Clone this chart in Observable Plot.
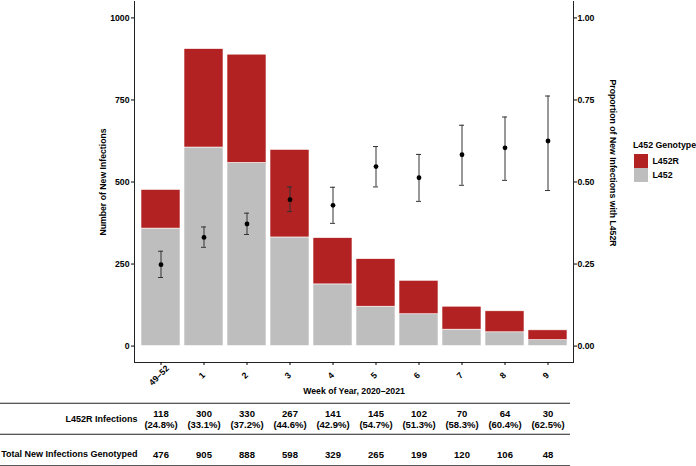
<!DOCTYPE html>
<html><head><meta charset="utf-8">
<script src="https://cdn.jsdelivr.net/npm/d3@7"></script>
<script src="https://cdn.jsdelivr.net/npm/@observablehq/plot@0.6"></script>
<style>
body{margin:0;background:#fff;font-family:"Liberation Sans",Arial,Helvetica,sans-serif;}
#wrap{position:relative;width:696px;height:466px;overflow:hidden;background:#fff}
#wrap svg{display:block}
.lg{position:absolute;font-weight:bold;font-size:8.8px;line-height:10px;color:#000;white-space:nowrap}
.sw{position:absolute;width:14px;height:14px}
</style></head>
<body><div id="wrap"></div>
<script>
// ---- data ----
const weeks = ["49–52","1","2","3","4","5","6","7","8","9"];
const l452rCounts = [118,300,330,267,141,145,102,70,64,30];
const totalCounts = [476,905,888,598,329,265,199,120,106,48];
const l452rPct = [24.8,33.1,37.2,44.6,42.9,54.7,51.3,58.3,60.4,62.5];
const ciLow  = [0.209,0.301,0.340,0.410,0.374,0.485,0.441,0.490,0.505,0.474];
const ciHigh = [0.289,0.363,0.405,0.485,0.484,0.608,0.584,0.673,0.698,0.762];
const genotypes = ["L452R","L452"];
const genotypeColors = ["#B22222","#BEBEBE"];
const countTicks = [0,250,500,750,1000];
const rowLabels = ["L452R Infections","Total New Infections Genotyped"];
const xTitle = "Week of Year, 2020–2021";
const yTitle = "Number of New Infections";
const y2Title = "Proportion of New Infections with L452R";
const legendTitle = "L452 Genotype";

// ---- derived tables ----
const barRows = [];
weeks.forEach((w,i)=>{
  barRows.push({week:w, genotype:"L452", count: totalCounts[i]-l452rCounts[i]});
  barRows.push({week:w, genotype:"L452R", count: l452rCounts[i]});
});
const propRows = weeks.map((w,i)=>({week:w, p:l452rPct[i]/100, lo:ciLow[i], hi:ciHigh[i]}));
const cellRows = weeks.map((w,i)=>({week:w, r:`${l452rCounts[i]}\n(${l452rPct[i].toFixed(1)}%)`, t:`${totalCounts[i]}`}));

const font = '"Liberation Sans", Arial, Helvetica, sans-serif';
const xScale = {type:"band", domain:weeks, paddingInner:0.1, paddingOuter:0.15, align:0.5};
const K = 1000; // secondary-axis factor (proportion -> count axis)

const chart = Plot.plot({
  width:696, height:400,
  marginLeft:134, marginRight:123, marginTop:1, marginBottom:38,
  style:{fontFamily:font, fontSize:"8.7px", fontWeight:"bold", color:"#000", background:"#fff", overflow:"visible"},
  x:{...xScale},
  y:{domain:[-50,1050]},
  color:{domain:genotypes, range:genotypeColors},
  marks:[
    Plot.barY(barRows, {x:"week", y:"count", fill:"genotype", stroke:"#fff", strokeWidth:0.6}),
    Plot.ruleX(propRows, {x:"week", y1:d=>d.lo*K, y2:d=>d.hi*K, stroke:"#333", strokeWidth:1}),
    Plot.tickY(propRows, {x:"week", y:d=>d.lo*K, insetLeft:17, insetRight:17, stroke:"#333", strokeWidth:1}),
    Plot.tickY(propRows, {x:"week", y:d=>d.hi*K, insetLeft:17, insetRight:17, stroke:"#333", strokeWidth:1}),
    Plot.dot(propRows, {x:"week", y:d=>d.p*K, r:2.4, fill:"#000"}),
    Plot.frame({anchor:"left", stroke:"#222"}),
    Plot.frame({anchor:"bottom", stroke:"#222"}),
    Plot.frame({anchor:"right", stroke:"#222"}),
    Plot.axisY({anchor:"left", ticks:countTicks, tickSize:3, tickPadding:2, tickFormat:d=>String(d), label:null}),
    Plot.axisY({anchor:"right", ticks:countTicks, tickSize:3, tickPadding:1, tickFormat:d=>(d/K).toFixed(2), label:null}),
    Plot.axisX({tickSize:3, tickFormat:()=>"", label:null}),
    Plot.text(weeks, {x:d=>d, frameAnchor:"bottom", dy:15, rotate:-45}),
    Plot.text([xTitle], {frameAnchor:"bottom", dy:31}),
    Plot.text([yTitle], {frameAnchor:"left", textAnchor:"middle", dx:-31, rotate:-90}),
    Plot.text([y2Title], {frameAnchor:"right", textAnchor:"middle", dx:39, dy:-19, rotate:90})
  ]
});

const table = Plot.plot({
  width:696, height:66,
  marginLeft:134, marginRight:123, marginTop:2, marginBottom:1,
  style:{fontFamily:font, fontSize:"9px", fontWeight:"bold", color:"#000", background:"#fff", overflow:"visible"},
  x:{...xScale, axis:null},
  y:{type:"band", domain:rowLabels, padding:0, axis:null},
  marks:[
    Plot.ruleY(rowLabels, {y:d=>d, dy:-15.75, insetLeft:-134, insetRight:3, stroke:"#222"}),
    Plot.ruleY(rowLabels.slice(1), {y:d=>d, dy:15.75, insetLeft:-134, insetRight:3, stroke:"#222"}),
    Plot.text(rowLabels.slice(0,1), {y:d=>d, frameAnchor:"left", textAnchor:"end", dx:3}),
    Plot.text(rowLabels.slice(1), {y:d=>d, frameAnchor:"left", textAnchor:"end", dx:3, dy:4.5}),
    Plot.text(cellRows, {x:"week", y:()=>rowLabels[0], text:"r", fontSize:9.5, lineHeight:1.1}),
    Plot.text(cellRows, {x:"week", y:()=>rowLabels[1], text:"t", fontSize:9.5, dy:4.5})
  ]
});

const wrap = document.getElementById("wrap");
wrap.appendChild(chart);
wrap.appendChild(table);

// legend
const lt = document.createElement("div");
lt.className = "lg"; lt.style.left = "633px"; lt.style.top = "139.5px"; lt.textContent = legendTitle;
wrap.appendChild(lt);
genotypes.forEach((g,i)=>{
  const s = document.createElement("div");
  s.className = "sw"; s.style.left = "633.5px"; s.style.top = (153.5 + i*14.5) + "px"; s.style.background = genotypeColors[i];
  wrap.appendChild(s);
  const l = document.createElement("div");
  l.className = "lg"; l.style.left = "652.5px"; l.style.top = (155.5 + i*14.5) + "px"; l.textContent = g;
  wrap.appendChild(l);
});
</script>
</body></html>
